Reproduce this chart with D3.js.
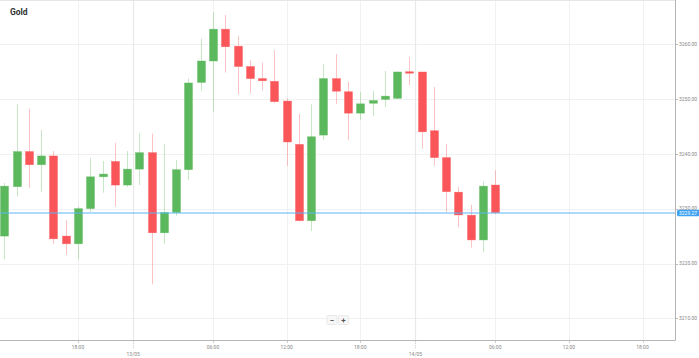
<!DOCTYPE html>
<html>
<head>
<meta charset="utf-8">
<script src="https://cdn.jsdelivr.net/npm/d3@7"></script>
<style>
  html, body { margin: 0; padding: 0; background: #fff; }
  svg { display: block; font-family: Roboto, "Noto Sans", sans-serif; }
</style>
</head>
<body>
<svg id="chart" width="699" height="358"></svg>
<script>
// ---- data ----
const title = "Gold";
const opens  = [3225.0,3234.0,3240.4,3238.0,3239.6,3225.0,3223.6,3230.0,3235.8,3238.6,3234.3,3237.2,3240.2,3225.6,3229.3,3237.1,3253.0,3256.9,3262.7,3259.6,3255.9,3253.7,3253.2,3249.6,3241.7,3227.8,3243.4,3253.7,3251.3,3247.4,3249.2,3249.9,3250.1,3254.95,3254.9,3244.2,3239.3,3233.0,3228.8,3224.3,3234.3];
const highs  = [3234.7,3249.0,3248.2,3244.3,3240.5,3227.9,3230.4,3239.2,3238.7,3242.0,3240.5,3243.7,3243.7,3241.8,3238.9,3253.75,3261.0,3265.8,3265.3,3261.5,3257.0,3256.6,3258.9,3250.1,3247.25,3249.0,3256.3,3258.2,3253.1,3251.2,3251.5,3255.1,3255.0,3257.6,3254.9,3252.2,3241.8,3234.0,3230.7,3234.9,3237.0];
const lows   = [3220.8,3232.2,3233.8,3233.1,3223.6,3221.6,3220.8,3229.4,3232.9,3230.4,3233.9,3234.3,3216.2,3223.6,3228.7,3235.2,3251.5,3247.7,3254.8,3250.8,3251.0,3251.5,3249.2,3237.8,3227.7,3225.9,3242.5,3249.1,3242.5,3246.2,3246.9,3248.5,3249.9,3252.5,3240.9,3237.8,3229.4,3226.6,3222.9,3222.05,3229.0];
const closes = [3234.1,3240.4,3238.0,3239.6,3224.5,3223.6,3230.0,3235.8,3236.3,3234.3,3237.2,3240.2,3225.6,3229.3,3237.1,3252.9,3256.9,3262.7,3259.5,3255.9,3253.7,3253.3,3249.5,3242.15,3227.8,3243.1,3253.7,3251.4,3247.4,3249.1,3249.7,3250.5,3254.9,3254.7,3244.0,3239.3,3233.1,3228.85,3224.3,3234.1,3229.27];
const currentPrice = 3229.27;

const timeTickIdx    = [6, 17, 23, 29, 40, 46, 52];
const timeTickLabels = ["18:00","06:00","12:00","18:00","06:00","12:00","18:00"];
const dateTickIdx    = [10.5, 33.5];
const dateTickLabels = ["13/05","14/05"];
const priceTicks = [3210, 3220, 3230, 3240, 3250, 3260];

// ---- layout ----
const W = 699, H = 358;
const plotRight = 675, plotBottom = 340;
const svg = d3.select("#chart");

const x = d3.scaleLinear().domain([6, 52]).range([78, 642.5]);
const y = d3.scaleLinear().domain([3210, 3260]).range([318.4, 44]);

const green = "#5cb85c", red = "#fa5558";
const candles = opens.map((o, i) => ({i, o, h: highs[i], l: lows[i], c: closes[i]}));

// grid
const grid = svg.append("g");
grid.selectAll("line.h").data(priceTicks).join("line")
  .attr("x1", 0).attr("x2", plotRight)
  .attr("y1", d => Math.round(y(d)) + 0.5).attr("y2", d => Math.round(y(d)) + 0.5)
  .attr("stroke", "#f1f1f1").attr("stroke-width", 1);
grid.selectAll("line.v").data(timeTickIdx).join("line")
  .attr("x1", d => Math.round(x(d)) + 0.5).attr("x2", d => Math.round(x(d)) + 0.5)
  .attr("y1", 0).attr("y2", plotBottom)
  .attr("stroke", "#f1f1f1").attr("stroke-width", 1);
grid.selectAll("line.d").data(dateTickIdx).join("line")
  .attr("x1", d => Math.round(x(d)) + 0.5).attr("x2", d => Math.round(x(d)) + 0.5)
  .attr("y1", 0).attr("y2", plotBottom)
  .attr("stroke", "#e9e9e9").attr("stroke-width", 1.2);
// top border
svg.append("line").attr("x1", 0).attr("x2", plotRight).attr("y1", 0.5).attr("y2", 0.5)
  .attr("stroke", "#e6e6e6");

// title
svg.append("text").attr("x", 10).attr("y", 15)
  .attr("font-size", 8.5).attr("font-weight", "bold").attr("fill", "#333")
  .text(title);

// candles
const cg = svg.append("g").attr("clip-path", "url(#clip)");
svg.append("clipPath").attr("id", "clip").append("rect")
  .attr("x", 0).attr("y", 0).attr("width", plotRight).attr("height", plotBottom);
const bodyW = 8;
cg.selectAll("line.wick").data(candles).join("line")
  .attr("x1", d => Math.round(x(d.i)) + 0.5).attr("x2", d => Math.round(x(d.i)) + 0.5)
  .attr("y1", d => y(d.h)).attr("y2", d => y(d.l))
  .attr("stroke", d => d.c >= d.o ? green : red)
  .attr("stroke-opacity", 0.35).attr("stroke-width", 1);
cg.selectAll("rect.body").data(candles).join("rect")
  .attr("x", d => Math.round(x(d.i)) + 0.5 - bodyW / 2)
  .attr("width", bodyW)
  .attr("y", d => y(Math.max(d.o, d.c)))
  .attr("height", d => Math.max(1.5, Math.abs(y(d.o) - y(d.c))))
  .attr("fill", d => d.c >= d.o ? green : red)
  .attr("stroke", d => d.c >= d.o ? green : red)
  .attr("stroke-opacity", 0.6).attr("stroke-width", 0.6);

// axes lines
svg.append("line").attr("x1", plotRight + 0.5).attr("x2", plotRight + 0.5)
  .attr("y1", 0).attr("y2", plotBottom + 0.5).attr("stroke", "#b5b5b5");
svg.append("line").attr("x1", 0).attr("x2", plotRight + 0.5)
  .attr("y1", plotBottom + 0.5).attr("y2", plotBottom + 0.5).attr("stroke", "#b5b5b5");

// right axis ticks
const yAxis = svg.append("g");
yAxis.selectAll("line").data(priceTicks).join("line")
  .attr("x1", plotRight + 1).attr("x2", plotRight + 3)
  .attr("y1", d => Math.round(y(d)) + 0.5).attr("y2", d => Math.round(y(d)) + 0.5)
  .attr("stroke", "#bbb");
yAxis.selectAll("text").data(priceTicks).join("text")
  .attr("x", plotRight + 4).attr("y", d => y(d) + 1.8)
  .attr("font-size", 5).attr("fill", "#888")
  .text(d => d3.format(".2f")(d));

// bottom axis
const xAxis = svg.append("g");
xAxis.selectAll("line.t").data(timeTickIdx).join("line")
  .attr("x1", d => Math.round(x(d)) + 0.5).attr("x2", d => Math.round(x(d)) + 0.5)
  .attr("y1", plotBottom + 1).attr("y2", plotBottom + 3).attr("stroke", "#ccc");
xAxis.selectAll("text.t").data(timeTickIdx).join("text")
  .attr("x", d => x(d)).attr("y", 348.5)
  .attr("text-anchor", "middle").attr("font-size", 5).attr("fill", "#888")
  .text((d, i) => timeTickLabels[i]);
xAxis.selectAll("line.d").data(dateTickIdx).join("line")
  .attr("x1", d => Math.round(x(d)) + 0.5).attr("x2", d => Math.round(x(d)) + 0.5)
  .attr("y1", plotBottom + 1).attr("y2", plotBottom + 8)
  .attr("stroke", "#ccc").attr("stroke-dasharray", "1,1");
xAxis.selectAll("text.d").data(dateTickIdx).join("text")
  .attr("x", d => x(d)).attr("y", 356)
  .attr("text-anchor", "middle").attr("font-size", 5).attr("fill", "#888")
  .text((d, i) => dateTickLabels[i]);

// current price line + label
const cy = Math.round(y(currentPrice));
svg.append("line").attr("x1", 0).attr("x2", plotRight).attr("y1", cy).attr("y2", cy)
  .attr("stroke", "#5ab5f7").attr("stroke-width", 1);
svg.append("rect").attr("x", plotRight + 2).attr("y", cy - 3.3)
  .attr("width", 24).attr("height", 6.6).attr("rx", 1.5)
  .attr("fill", "#3ea2f2");
svg.append("text").attr("x", plotRight + 4).attr("y", cy + 1.8)
  .attr("font-size", 5).attr("fill", "#fff")
  .text(d3.format(".2f")(currentPrice));

// zoom buttons
const zb = svg.append("g");
const btns = ["−", "+"];
zb.selectAll("rect").data(btns).join("rect")
  .attr("x", (d, i) => 327 + i * 11.5).attr("y", 315.5)
  .attr("width", 10).attr("height", 9).attr("rx", 1)
  .attr("fill", "#f7f7f7").attr("stroke", "#e2e2e2").attr("stroke-width", 0.7);
zb.selectAll("text").data(btns).join("text")
  .attr("x", (d, i) => 332 + i * 11.5).attr("y", 322.6)
  .attr("text-anchor", "middle").attr("font-size", 8).attr("font-weight", "bold").attr("fill", "#555")
  .text(d => d);
</script>
</body>
</html>
